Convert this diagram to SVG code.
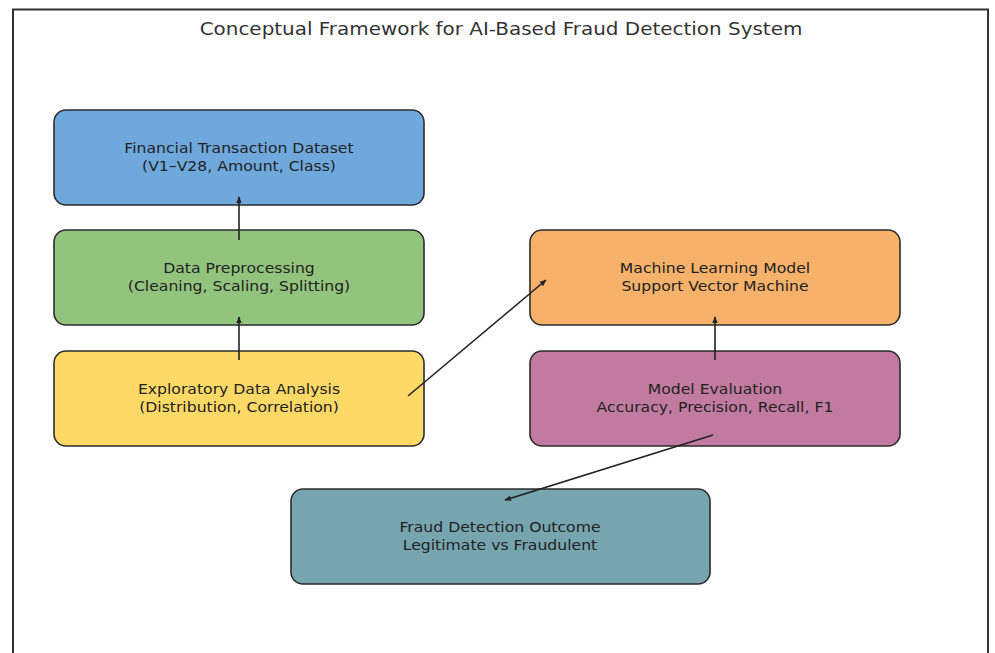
<svg xmlns="http://www.w3.org/2000/svg" width="995" height="653" viewBox="0 0 995 653">
<defs>
<style>
.box{stroke:#2b2b2b;stroke-width:1.6}
.t{font-family:"DejaVu Sans",sans-serif;font-size:13.5px;fill:#222;text-anchor:middle}
.title{font-family:"DejaVu Sans",sans-serif;font-size:17.5px;fill:#333;text-anchor:middle}
.c{stroke:#222;stroke-width:1.6;fill:none;marker-end:url(#ah)}
</style>
<marker id="ah" viewBox="0 0 10 10" refX="9" refY="5" markerWidth="7" markerHeight="7" orient="auto" markerUnits="userSpaceOnUse">
<path d="M0,1 L10,5 L0,9 z" fill="#222"/>
</marker>
</defs>
<rect x="0" y="0" width="995" height="653" fill="#fff"/>
<path d="M13,660 L13,9.5 L988,9.5 L988,660" fill="none" stroke="#333" stroke-width="2"/>
<text class="title" transform="translate(501,35) scale(1.14,1)">Conceptual Framework for AI-Based Fraud Detection System</text>
<g id="n1"><rect class="box" x="54" y="110" width="370" height="95" rx="12" fill="#6fa8dc"/><text class="t" transform="translate(239,153) scale(1.16,1)">Financial Transaction Dataset</text><text class="t" transform="translate(239,171) scale(1.16,1)">(V1–V28, Amount, Class)</text></g>
<g id="n2"><rect class="box" x="54" y="230" width="370" height="95" rx="12" fill="#93c47d"/><text class="t" transform="translate(239,273) scale(1.16,1)">Data Preprocessing</text><text class="t" transform="translate(239,291) scale(1.16,1)">(Cleaning, Scaling, Splitting)</text></g>
<g id="n3"><rect class="box" x="54" y="351" width="370" height="95" rx="12" fill="#ffd966"/><text class="t" transform="translate(239,394) scale(1.16,1)">Exploratory Data Analysis</text><text class="t" transform="translate(239,412) scale(1.16,1)">(Distribution, Correlation)</text></g>
<g id="n4"><rect class="box" x="530" y="230" width="370" height="95" rx="12" fill="#f6b26b"/><text class="t" transform="translate(715,273) scale(1.16,1)">Machine Learning Model</text><text class="t" transform="translate(715,291) scale(1.16,1)">Support Vector Machine</text></g>
<g id="n5"><rect class="box" x="530" y="351" width="370" height="95" rx="12" fill="#c27ba0"/><text class="t" transform="translate(715,394) scale(1.16,1)">Model Evaluation</text><text class="t" transform="translate(715,412) scale(1.16,1)">Accuracy, Precision, Recall, F1</text></g>
<g id="n6"><rect class="box" x="291" y="489" width="419" height="95" rx="12" fill="#76a5af"/><text class="t" transform="translate(500,532) scale(1.16,1)">Fraud Detection Outcome</text><text class="t" transform="translate(500,550) scale(1.16,1)">Legitimate vs Fraudulent</text></g>
<g id="connectors">
<line class="c" x1="239" y1="240" x2="239" y2="197"/>
<line class="c" x1="239" y1="360" x2="239" y2="317"/>
<line class="c" x1="408" y1="396" x2="546" y2="280"/>
<line class="c" x1="715" y1="360" x2="715" y2="317"/>
<line class="c" x1="713" y1="435" x2="505" y2="500"/>
</g>
</svg>
